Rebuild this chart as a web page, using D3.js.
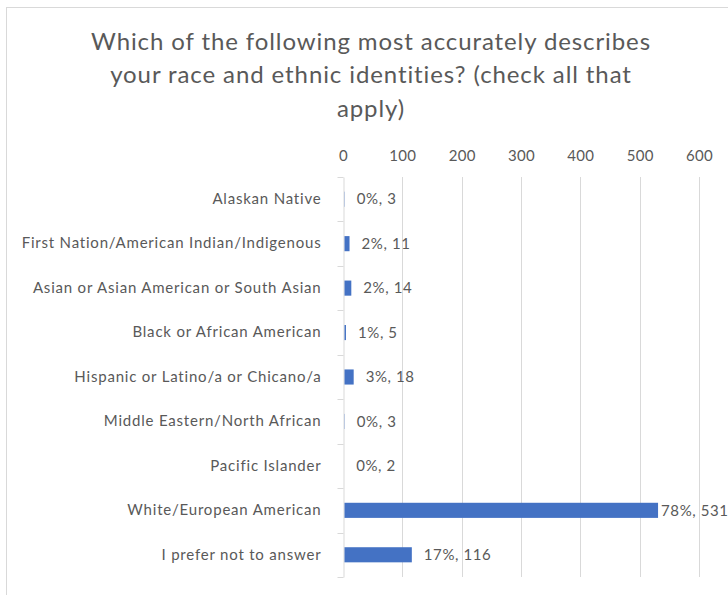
<!DOCTYPE html>
<html>
<head>
<meta charset="utf-8">
<script src="https://cdn.jsdelivr.net/npm/d3@7"></script>
<style>
  html, body { margin: 0; padding: 0; background: #ffffff; }
  svg { display: block; }
</style>
</head>
<body>
<svg id="chart" width="728" height="595"></svg>
<script>
// Survey responses, one row per answer option (top to bottom)
const categories = [
  "Alaskan Native",
  "First Nation/American Indian/Indigenous",
  "Asian or Asian American or South Asian",
  "Black or African American",
  "Hispanic or Latino/a or Chicano/a",
  "Middle Eastern/North African",
  "Pacific Islander",
  "White/European American",
  "I prefer not to answer"
];
const counts = [3, 11, 14, 5, 18, 3, 2, 531, 116];
const percents = [0, 2, 2, 1, 3, 0, 0, 78, 17];
const xTicks = [0, 100, 200, 300, 400, 500, 600];
const titleLines = [
  "Which of the following most accurately describes",
  "your race and ethnic identities? (check all that",
  "apply)"
];

const W = 728, H = 595;
const FONT = "Lato, 'Open Sans', sans-serif";
const TEXT = "#595959";
const GRID = "#d9d9d9";
const BAR = "#4472C4";

const svg = d3.select("#chart");

// chart frame
svg.append("rect")
  .attr("x", 6.5).attr("y", 7.5)
  .attr("width", W).attr("height", H)
  .attr("fill", "#fff").attr("stroke", GRID).attr("stroke-width", 1);

// title
svg.append("g")
  .selectAll("text")
  .data(titleLines)
  .join("text")
  .attr("x", 371)
  .attr("y", (d, i) => 49.5 + i * 33.5)
  .attr("text-anchor", "middle")
  .attr("font-family", FONT)
  .attr("font-size", 24)
  .attr("letter-spacing", 0.9)
  .attr("fill", TEXT)
  .text(d => d);

const plot = { left: 343, right: 699, top: 177, bottom: 577 };

const x = d3.scaleLinear().domain([0, 600]).range([plot.left, plot.right]);
const y = d3.scaleBand().domain(categories).range([plot.top, plot.bottom])
  .paddingInner(0.66).paddingOuter(0.33);

// vertical gridlines
svg.append("g")
  .selectAll("line")
  .data(xTicks.filter(t => t > 0))
  .join("line")
  .attr("x1", d => Math.round(x(d)) + 0.5)
  .attr("x2", d => Math.round(x(d)) + 0.5)
  .attr("y1", plot.top).attr("y2", plot.bottom)
  .attr("stroke", GRID).attr("stroke-width", 1);

// top value axis (labels only)
const xAxis = svg.append("g")
  .attr("transform", `translate(0,${plot.top - 16})`)
  .call(d3.axisTop(x).tickValues(xTicks).tickSize(0).tickPadding(0));
xAxis.select(".domain").remove();
xAxis.selectAll("text")
  .attr("font-family", FONT).attr("font-size", 15)
  .attr("letter-spacing", 0.3).attr("fill", TEXT);

// category axis with boundary ticks
const yAxis = svg.append("g")
  .attr("transform", `translate(${plot.left + 0.5},0)`)
  .call(d3.axisLeft(y).tickSize(0).tickPadding(22));
yAxis.select(".domain").attr("stroke", GRID);
yAxis.selectAll("text")
  .attr("font-family", FONT).attr("font-size", 15)
  .attr("letter-spacing", 0.8).attr("fill", TEXT);

const step = y.step();
const bounds = d3.range(categories.length + 1).map(i => plot.top + i * step);
yAxis.append("g")
  .selectAll("line")
  .data(bounds)
  .join("line")
  .attr("x1", -6).attr("x2", 0)
  .attr("y1", d => Math.round(d) + 0.5).attr("y2", d => Math.round(d) + 0.5)
  .attr("stroke", GRID);

// bars start just right of the category axis line
svg.append("g")
  .selectAll("rect")
  .data(categories)
  .join("rect")
  .attr("x", x(0) + 1.5)
  .attr("y", d => y(d))
  .attr("width", (d, i) => Math.max(0, x(counts[i]) - x(0) - 1.5))
  .attr("height", y.bandwidth())
  .attr("fill", BAR);

// data labels "pct%, count", kept inside the frame
const labels = svg.append("g")
  .selectAll("text")
  .data(categories)
  .join("text")
  .attr("y", d => y(d) + y.bandwidth() / 2)
  .attr("dy", "0.35em")
  .attr("font-family", FONT).attr("font-size", 15)
  .attr("letter-spacing", 0.6).attr("fill", TEXT)
  .text((d, i) => `${percents[i]}%, ${counts[i]}`);

labels.each(function (d, i) {
  const w = this.getBBox().width;
  const lx = Math.min(x(counts[i]) + 12, W - w - 4);
  d3.select(this).attr("x", Math.max(x(counts[i]) + 3, lx));
});
</script>
</body>
</html>
